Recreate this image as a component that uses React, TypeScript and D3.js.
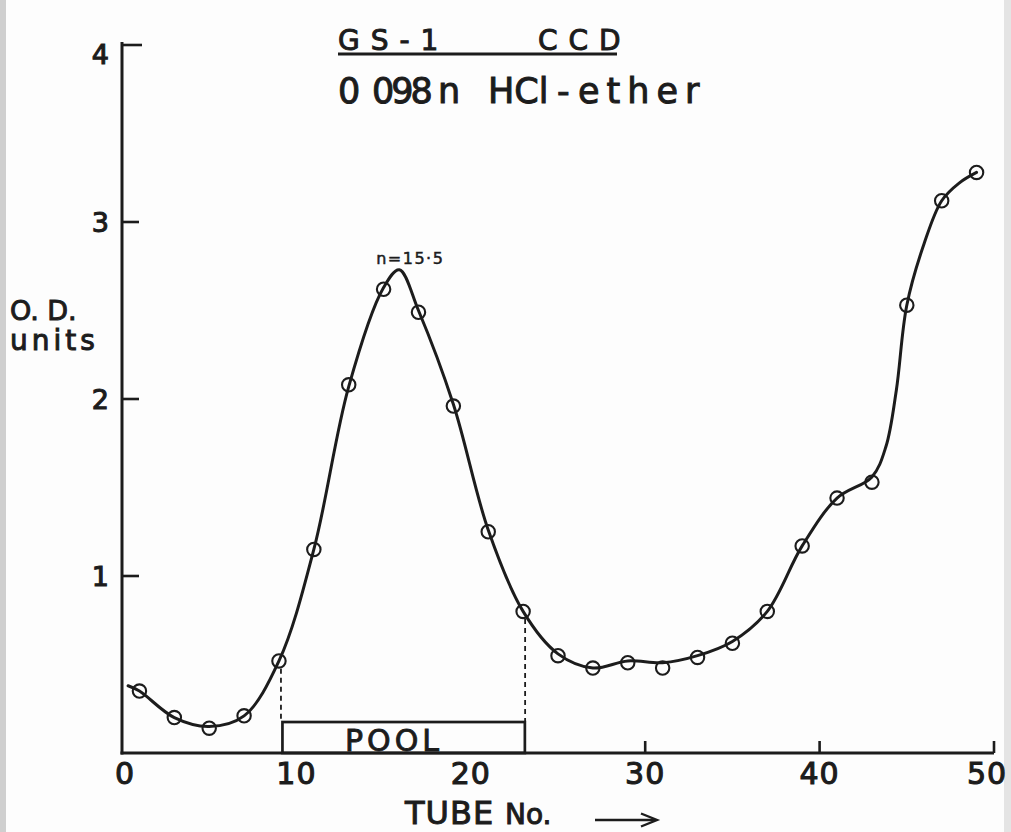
import React from "react";
import * as d3 from "d3";

// Measured points (every other tube)
const tubes = [1, 3, 5, 7, 9, 11, 13, 15, 17, 19, 21, 23, 25, 27, 29, 31, 33, 35, 37, 39, 41, 43, 45, 47, 49];
const odValues = [0.35, 0.2, 0.14, 0.21, 0.52, 1.15, 2.08, 2.62, 2.49, 1.96, 1.25, 0.8, 0.55, 0.48, 0.51, 0.48, 0.54, 0.62, 0.8, 1.17, 1.44, 1.53, 2.53, 3.12, 3.28];

// Hand-drawn smooth curve
const curveTubes = [0.35, 1, 3, 5, 7, 9, 11, 13, 15, 15.9, 17, 19, 21, 23, 25, 27, 29, 31, 33, 35, 37, 39, 41, 43, 43.8, 44.4, 45, 46, 47, 48, 49];
const curveOD = [0.38, 0.35, 0.2, 0.15, 0.21, 0.52, 1.15, 2.07, 2.63, 2.73, 2.5, 1.97, 1.26, 0.8, 0.56, 0.48, 0.52, 0.51, 0.55, 0.63, 0.8, 1.17, 1.44, 1.56, 1.73, 2.05, 2.53, 2.88, 3.12, 3.22, 3.28];

const xTickLabels = [0, 10, 20, 30, 40, 50];
const xTickMarks = [30, 40, 50];
const yTicks = [1, 2, 3, 4];

const poolRange = [9.2, 23.1];
const poolTopOD = 0.175;
const poolDashTubes = [9, 23];
const peakTube = 15.9;
const peakOD = 2.73;

const FONT = "'DejaVu Sans', 'Liberation Sans', sans-serif";
const INK = "#1c1c1c";

export default function App() {
  const W = 1011;
  const H = 832;
  const x = d3.scaleLinear().domain([0, 50]).range([122, 994]);
  const y = d3.scaleLinear().domain([0, 4]).range([753, 45]);

  const curvePts: [number, number][] = curveTubes.map((t, i) => [t, curveOD[i]]);
  const line = d3
    .line<[number, number]>()
    .x((d) => x(d[0]))
    .y((d) => y(d[1]))
    .curve(d3.curveCatmullRom.alpha(0.5));

  const r = 6.7;
  const odAt = (t: number) => odValues[tubes.indexOf(t)];

  return (
    <svg
      width={W}
      height={H}
      style={{ position: "absolute", left: 0, top: 0, background: "#fdfdfd" }}
    >
      <rect x={0} y={0} width={W} height={H} fill="#fdfdfd" />
      <rect x={0} y={0} width={6} height={H} fill="#cfcfcf" />
      <rect x={1004} y={0} width={7} height={H} fill="#e4e4e4" />

      {/* Title */}
      <g fill={INK} fontFamily={FONT} stroke={INK} strokeWidth={1}>
        <text x={338} y={50} fontSize={28} letterSpacing={11}>GS-1</text>
        <text x={538} y={50} fontSize={28} letterSpacing={11}>CCD</text>
        <text x={338} y={103} fontSize={35}>0</text>
        <text x={372} y={103} fontSize={35} letterSpacing={-3}>098</text>
        <text x={438} y={103} fontSize={35}>n</text>
        <text x={488} y={103} fontSize={35}>HCl</text>
        <text x={557} y={103} fontSize={35}>-</text>
        <text x={578} y={103} fontSize={35} letterSpacing={7}>ether</text>
      </g>
      <line x1={338} x2={617} y1={54} y2={54} stroke={INK} strokeWidth={2.8} />

      {/* Y axis */}
      <line x1={x(0)} x2={x(0)} y1={y(0) + 1.5} y2={y(4) - 3} stroke={INK} strokeWidth={3} />
      {yTicks.map((v) => (
        <g key={"yt" + v}>
          <line x1={x(0)} x2={x(0) + (v === 4 ? 20 : 17)} y1={y(v)} y2={y(v)} stroke={INK} strokeWidth={2.6} />
          <text
            x={109}
            y={y(v) + (v === 4 ? 9 : 0)}
            textAnchor="end"
            dominantBaseline="central"
            fontFamily={FONT}
            fontSize={27}
            fill={INK}
            stroke={INK}
            strokeWidth={1.1}
          >
            {v}
          </text>
        </g>
      ))}
      <g fontFamily={FONT} fontSize={27} fill={INK} stroke={INK} strokeWidth={1}>
        <text x={10} y={320}>O. D.</text>
        <text x={10} y={350} fontSize={28} letterSpacing={4}>units</text>
      </g>

      {/* X axis */}
      <line x1={x(0) - 1.5} x2={x(50)} y1={y(0)} y2={y(0)} stroke={INK} strokeWidth={3} />
      {xTickMarks.map((v) => (
        <line key={"xm" + v} x1={x(v)} x2={x(v)} y1={y(0)} y2={y(0) - 12} stroke={INK} strokeWidth={2.6} />
      ))}
      {xTickLabels.map((v) => (
        <text
          key={"xl" + v}
          x={x(v) + (v === 0 ? 3 : v === 50 ? -7 : 0)}
          y={784}
          textAnchor="middle"
          fontFamily={FONT}
          fontSize={30}
          letterSpacing={1}
          fill={INK}
          stroke={INK}
          strokeWidth={1.1}
        >
          {v}
        </text>
      ))}
      <g fontFamily={FONT} fill={INK} stroke={INK} strokeWidth={1}>
        <text x={405} y={824} fontSize={32} letterSpacing={1}>TUBE</text>
        <text x={505} y={824} fontSize={28}>No.</text>
      </g>
      <line x1={595} x2={655} y1={820} y2={820} stroke={INK} strokeWidth={2.6} />
      <path d="M641,813.5 L657,820 L641,826.5" fill="none" stroke={INK} strokeWidth={2.4} />

      {/* Pool */}
      <rect
        x={x(poolRange[0])}
        y={y(poolTopOD)}
        width={x(poolRange[1]) - x(poolRange[0])}
        height={y(0) - y(poolTopOD)}
        fill="none"
        stroke={INK}
        strokeWidth={2.7}
      />
      <text x={345} y={751} fontFamily={FONT} fontSize={30} letterSpacing={4} fill={INK} stroke={INK} strokeWidth={0.9}>
        POOL
      </text>
      {poolDashTubes.map((t) => (
        <line
          key={"dash" + t}
          x1={x(t) + 2}
          x2={x(t) + 2}
          y1={y(odAt(t)) + r + 1}
          y2={y(poolTopOD)}
          stroke={INK}
          strokeWidth={1.8}
          strokeDasharray="5,4"
        />
      ))}

      {/* Curve */}
      <path d={line(curvePts) || ""} fill="none" stroke={INK} strokeWidth={3} strokeLinejoin="round" strokeLinecap="round" />

      {/* Points */}
      {tubes.map((t, i) => (
        <circle key={"p" + t} cx={x(t)} cy={y(odValues[i])} r={r} fill="none" stroke={INK} strokeWidth={2.1} />
      ))}

      {/* Peak annotation */}
      <text
        x={x(peakTube) + 11}
        y={y(peakOD) - 6}
        textAnchor="middle"
        fontFamily={FONT}
        fontSize={16}
        letterSpacing={1.5}
        fill={INK}
        stroke={INK}
        strokeWidth={0.5}
      >
        n=15·5
      </text>
    </svg>
  );
}
